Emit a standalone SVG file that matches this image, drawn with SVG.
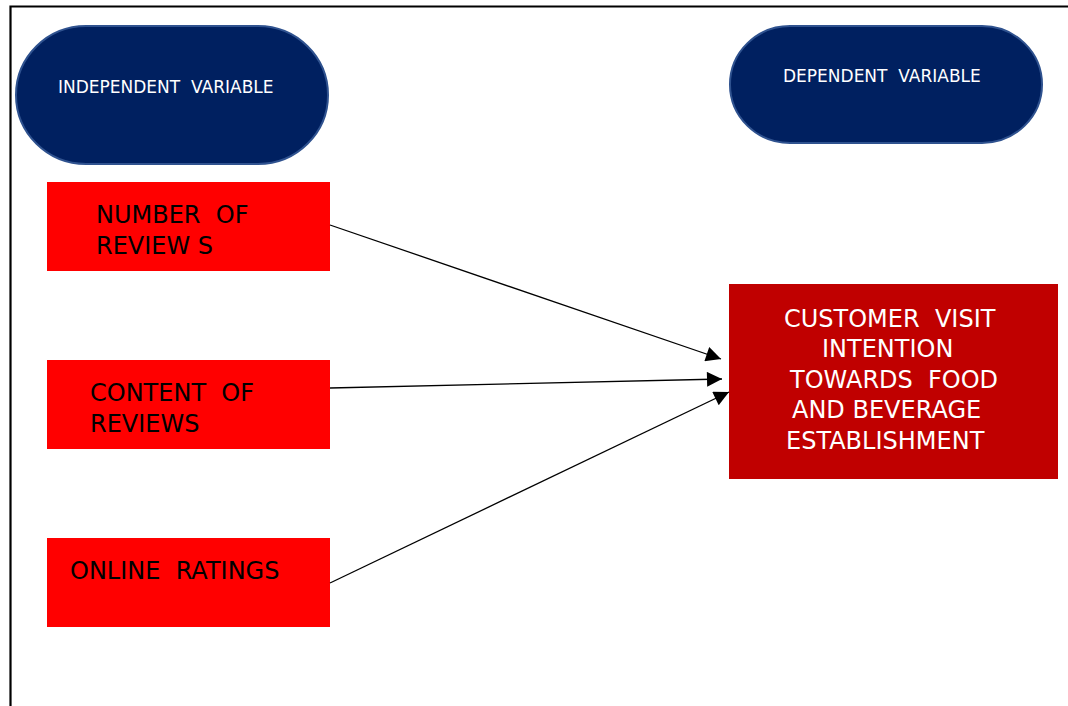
<svg xmlns="http://www.w3.org/2000/svg" width="1068" height="706" viewBox="0 0 1068 706" xml:space="preserve">
<style>
text{font-family:"DejaVu Sans","Liberation Sans",sans-serif;white-space:pre}
.oval{fill:#002060;stroke:#2f528f;stroke-width:2}
.oval-t{fill:#ffffff;font-size:17px}
.iv{fill:#ff0000}
.iv-t{fill:#000000;font-size:24px}
.dv{fill:#c00000}
.dv-t{fill:#ffffff;font-size:24px}
.conn{stroke:#000000;stroke-width:1.3;fill:none;marker-end:url(#arr)}
</style>
<defs>
<marker id="arr" viewBox="0 0 10 10" refX="10" refY="5" markerWidth="16" markerHeight="15" markerUnits="userSpaceOnUse" orient="auto">
<path d="M0,0 L10,5 L0,10 z" fill="#000000"/>
</marker>
</defs>
<rect width="1068" height="706" fill="#ffffff"/>
<g id="frame">
<path d="M10.5,706 L10.5,6.5 L1068,6.5" fill="none" stroke="#000000" stroke-width="2.2"/>
</g>
<g id="independent-label">
<rect class="oval" x="16" y="26" width="312" height="138" rx="70" ry="69"/>
<text class="oval-t" x="58" y="93">INDEPENDENT  VARIABLE</text>
</g>
<g id="dependent-label">
<rect class="oval" x="730" y="26" width="312" height="117" rx="60" ry="58.5"/>
<text class="oval-t" x="783" y="82">DEPENDENT  VARIABLE</text>
</g>
<g id="number-of-reviews">
<rect class="iv" x="47" y="182" width="283" height="89"/>
<text class="iv-t" x="96" y="223">NUMBER  OF</text>
<text class="iv-t" x="96" y="254">REVIEW S</text>
</g>
<g id="content-of-reviews">
<rect class="iv" x="47" y="360" width="283" height="89"/>
<text class="iv-t" x="90" y="401">CONTENT  OF</text>
<text class="iv-t" x="90" y="432">REVIEWS</text>
</g>
<g id="online-ratings">
<rect class="iv" x="47" y="538" width="283" height="89"/>
<text class="iv-t" x="70" y="579">ONLINE  RATINGS</text>
</g>
<g id="customer-visit-intention">
<rect class="dv" x="729" y="284" width="329" height="195"/>
<text class="dv-t" x="784" y="327">CUSTOMER  VISIT</text>
<text class="dv-t" x="822" y="357">INTENTION</text>
<text class="dv-t" x="790" y="388">TOWARDS  FOOD</text>
<text class="dv-t" x="792" y="418">AND BEVERAGE</text>
<text class="dv-t" x="786" y="449">ESTABLISHMENT</text>
</g>
<g id="connectors">
<line class="conn" x1="330" y1="225" x2="721" y2="359"/>
<line class="conn" x1="330" y1="388" x2="722" y2="379"/>
<line class="conn" x1="330" y1="583" x2="729" y2="392"/>
</g>
</svg>
